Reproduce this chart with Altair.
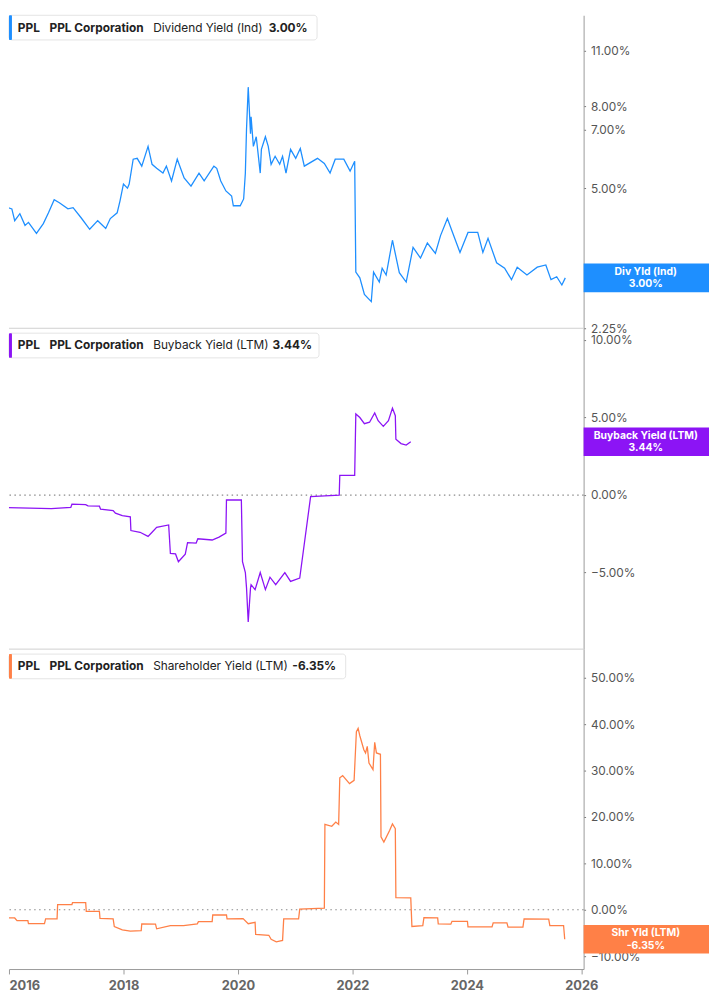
import altair as alt
import pandas as pd

FONT = "Inter"

# ---------------- data ----------------
div_years = [2015.88, 2016.05, 2016.10, 2016.19, 2016.28, 2016.34, 2016.48, 2016.60, 2016.69, 2016.79,
             2016.88, 2017.03, 2017.12, 2017.26, 2017.41, 2017.55, 2017.69, 2017.77, 2017.89, 2017.94,
             2018.00, 2018.07, 2018.10, 2018.17, 2018.24, 2018.32, 2018.43, 2018.50, 2018.58, 2018.69,
             2018.75, 2018.84, 2018.94, 2019.06, 2019.18, 2019.32, 2019.41, 2019.58, 2019.63, 2019.70,
             2019.79, 2019.89, 2019.92, 2020.04, 2020.10, 2020.13, 2020.15, 2020.18, 2020.22, 2020.23,
             2020.27, 2020.32, 2020.39, 2020.41, 2020.48, 2020.53, 2020.58, 2020.65, 2020.73, 2020.78,
             2020.84, 2020.92, 2021.01, 2021.09, 2021.16, 2021.39, 2021.51, 2021.61, 2021.70, 2021.85,
             2021.96, 2022.04, 2022.06, 2022.13, 2022.21, 2022.33, 2022.37, 2022.47, 2022.52, 2022.59,
             2022.70, 2022.82, 2022.94, 2023.06, 2023.19, 2023.31, 2023.45, 2023.54, 2023.66, 2023.75,
             2023.88, 2024.02, 2024.19, 2024.28, 2024.37, 2024.52, 2024.66, 2024.78, 2024.88, 2025.05,
             2025.23, 2025.38, 2025.47, 2025.57, 2025.66, 2025.72]
div_values = [4.53, 4.45, 4.16, 4.33, 4.05, 4.12, 3.87, 4.09, 4.35, 4.69,
              4.61, 4.45, 4.48, 4.23, 3.96, 4.16, 3.98, 4.21, 4.35, 4.66,
              5.13, 5.01, 5.13, 5.91, 5.94, 5.68, 6.36, 5.74, 5.61, 5.46,
              5.68, 5.22, 5.91, 5.31, 5.07, 5.46, 5.22, 5.68, 5.61, 5.22,
              4.93, 4.79, 4.53, 4.53, 4.71, 5.46, 7.00, 8.92, 6.84, 7.53,
              6.36, 6.72, 5.46, 6.25, 6.72, 6.36, 5.74, 6.01, 5.74, 6.01,
              5.46, 6.25, 5.94, 6.28, 5.68, 5.94, 5.77, 5.46, 5.91, 5.91,
              5.52, 5.84, 3.10, 3.00, 2.73, 2.62, 3.10, 2.93, 3.17, 3.05,
              3.72, 3.09, 2.93, 3.57, 3.36, 3.66, 3.45, 3.82, 4.21, 3.89,
              3.47, 3.89, 3.89, 3.47, 3.76, 3.27, 3.17, 2.97, 3.19, 3.05,
              3.19, 3.23, 2.97, 3.02, 2.88, 3.00]

bb_years = [2015.88, 2016.74, 2017.08, 2017.10, 2017.34, 2017.38, 2017.58, 2017.60, 2017.82, 2017.86,
            2017.98, 2018.12, 2018.13, 2018.29, 2018.43, 2018.50, 2018.58, 2018.79, 2018.82, 2018.91,
            2018.96, 2019.08, 2019.12, 2019.27, 2019.30, 2019.55, 2019.67, 2019.79, 2019.80, 2020.06,
            2020.08, 2020.13, 2020.15, 2020.18, 2020.22, 2020.23, 2020.30, 2020.39, 2020.48, 2020.56,
            2020.66, 2020.82, 2020.92, 2021.08, 2021.27, 2021.52, 2021.77, 2021.78, 2022.04, 2022.06,
            2022.13, 2022.21, 2022.30, 2022.39, 2022.45, 2022.54, 2022.63, 2022.70, 2022.75, 2022.76,
            2022.85, 2022.94, 2023.02]
bb_values = [-0.80, -0.87, -0.80, -0.59, -0.62, -0.70, -0.72, -0.91, -1.00, -1.17,
             -1.33, -1.40, -2.29, -2.40, -2.67, -2.40, -2.08, -1.93, -3.77, -3.80,
             -4.30, -3.81, -3.07, -3.10, -2.82, -2.90, -2.71, -2.46, -0.32, -0.32,
             -4.30, -5.00, -5.97, -8.18, -6.00, -5.78, -6.10, -5.00, -6.10, -5.30,
             -5.78, -5.00, -5.57, -5.36, -0.10, -0.06, 0.00, 1.27, 1.27, 5.23,
             5.00, 4.60, 4.70, 5.30, 4.80, 4.43, 4.80, 5.61, 5.12, 3.60,
             3.32, 3.22, 3.44]

sh_years = [2015.88, 2016.10, 2016.14, 2016.33, 2016.34, 2016.62, 2016.64, 2016.84, 2016.85, 2017.10,
            2017.11, 2017.34, 2017.35, 2017.58, 2017.59, 2017.82, 2017.84, 2017.98, 2018.12, 2018.31,
            2018.32, 2018.56, 2018.58, 2018.82, 2019.05, 2019.29, 2019.31, 2019.55, 2019.56, 2019.80,
            2019.81, 2020.09, 2020.18, 2020.30, 2020.31, 2020.54, 2020.58, 2020.67, 2020.78, 2020.80,
            2021.06, 2021.08, 2021.51, 2021.52, 2021.64, 2021.71, 2021.76, 2021.78, 2021.83, 2021.95,
            2022.03, 2022.07, 2022.10, 2022.13, 2022.20, 2022.23, 2022.26, 2022.29, 2022.36, 2022.39,
            2022.42, 2022.49, 2022.50, 2022.55, 2022.65, 2022.70, 2022.75, 2022.76, 2023.02, 2023.04,
            2023.23, 2023.25, 2023.49, 2023.50, 2023.72, 2023.74, 2024.01, 2024.02, 2024.44, 2024.46,
            2024.70, 2024.72, 2024.98, 2025.00, 2025.43, 2025.45, 2025.69, 2025.71]
sh_values = [-1.77, -1.77, -2.34, -2.34, -2.97, -2.97, -1.98, -1.98, 1.13, 1.13,
             1.56, 1.56, -0.35, -0.35, -1.84, -1.98, -3.60, -4.32, -4.60, -4.50,
             -3.04, -3.10, -4.10, -3.40, -3.40, -3.04, -2.55, -2.55, -1.13, -1.13,
             -1.98, -1.90, -3.00, -2.70, -5.30, -5.50, -6.37, -6.90, -6.60, -1.98,
             -1.98, 0.14, 0.35, 18.40, 18.00, 18.90, 18.40, 28.45, 28.90, 27.20,
             27.90, 38.40, 39.10, 37.50, 34.50, 33.80, 35.20, 31.60, 30.20, 36.10,
             33.80, 33.50, 15.70, 14.60, 17.10, 18.50, 17.50, 2.62, 2.55, -3.60,
             -3.40, -1.70, -1.75, -3.04, -3.10, -2.48, -2.48, -3.68, -3.70, -2.83,
             -2.83, -3.75, -3.75, -1.98, -2.00, -3.40, -3.40, -6.35]

year_ticks = [2016, 2018, 2020, 2022, 2024, 2026]
div_ticks = [2.25, 3, 5, 7, 8, 11, 14]
bb_ticks = [-5, 0, 5, 10]
sh_ticks = [-10, 0, 10, 20, 30, 40, 50]

BLUE = "#1E8FFF"
PURPLE = "#8C14F5"
ORANGE = "#FF8047"

W = 582
X_DOMAIN = [2016, 2026.04]
one = alt.Data(values=[{}])


def y_axis(ticks):
    return alt.Axis(orient="right", values=ticks, labelExpr="format(datum.value, '.2f') + '%'",
                    grid=False, domainColor="#9a9a9a", tickColor="#777", tickSize=2,
                    labelColor="#555", labelFontSize=12, labelPadding=5, labelFont=FONT,
                    labelOverlap=False, labelFlush=False)


def panel(years, values, color, height, yscale, ticks, legend_items, legend_w, legend_y,
          tag1, tag2, last_value, x_axis, zero_line, separator):
    df = pd.DataFrame({"year": years, "value": values})
    xenc = alt.X("year:Q", scale=alt.Scale(domain=X_DOMAIN, nice=False, zero=False), axis=x_axis, title=None)
    yenc = alt.Y("value:Q", scale=yscale, axis=y_axis(ticks), title=None)
    layers = []
    if zero_line:
        layers.append(alt.Chart(alt.Data(values=[{"z": 0}])).mark_rule(
            color="#8a8a8a", strokeDash=[1.5, 3.5], strokeWidth=1.2).encode(y=alt.Y("z:Q")))
    layers.append(alt.Chart(df).mark_line(color=color, strokeWidth=1.3, clip=True).encode(x=xenc, y=yenc))
    if separator:
        layers.append(alt.Chart(one).mark_rule(color="#cfcfcf", strokeWidth=1).encode(
            x=alt.value(0), x2=alt.value(W), y=alt.value(height)))
    # legend box
    layers.append(alt.Chart(one).mark_rect(fill="white", stroke="#e4e4e4", cornerRadius=3).encode(
        x=alt.value(0), x2=alt.value(legend_w), y=alt.value(legend_y), y2=alt.value(legend_y + 25)))
    layers.append(alt.Chart(one).mark_rect(fill=color, cornerRadius=1).encode(
        x=alt.value(0), x2=alt.value(3), y=alt.value(legend_y), y2=alt.value(legend_y + 25)))
    for txt, px, bold in legend_items:
        layers.append(alt.Chart(one).mark_text(
            align="left", baseline="middle", font=FONT, fontSize=12,
            fontWeight="bold" if bold else "normal", color="#222").encode(
            x=alt.value(px), y=alt.value(legend_y + 12.5), text=alt.value(txt)))
    # right value box
    lab = alt.Data(values=[{"value": last_value, "l1": tag1, "l2": tag2}])
    layers.append(alt.Chart(lab).mark_rect(color=color, yOffset=-14.5, y2Offset=14.5).encode(
        x=alt.value(W), x2=alt.value(W + 127), y=alt.Y("value:Q"), y2=alt.Y2("value")))
    layers.append(alt.Chart(lab).mark_text(color="white", font=FONT, fontSize=10.5, fontWeight="bold",
                                           dy=-6, align="center", baseline="middle").encode(
        x=alt.value(W + 63), y=alt.Y("value:Q"), text="l1:N"))
    layers.append(alt.Chart(lab).mark_text(color="white", font=FONT, fontSize=10.5, fontWeight="bold",
                                           dy=6.5, align="center", baseline="middle").encode(
        x=alt.value(W + 63), y=alt.Y("value:Q"), text="l2:N"))
    return alt.layer(*layers).properties(width=W, height=height)


common = [("PPL", 9, True), ("PPL Corporation", 41, True)]

p1 = panel(div_years, div_values, BLUE, 317,
           alt.Scale(type="log", domain=[2.25, 13.45], nice=False), div_ticks,
           common + [("Dividend Yield (Ind)", 146, False), ("3.00%", 263, True)], 312, 0,
           "Div Yld (Ind)", "3.00%", 3.00, None, False, True)

p2 = panel(bb_years, bb_values, PURPLE, 325,
           alt.Scale(domain=[-9.94, 10.76], nice=False, zero=False), bb_ticks,
           common + [("Buyback Yield (LTM)", 146, False), ("3.44%", 267, True)], 314, 5,
           "Buyback Yield (LTM)", "3.44%", 3.44, None, True, True)

x_axis = alt.Axis(values=year_ticks, format="d", labelFontWeight="bold", labelFontSize=13,
                  labelColor="#666", labelFont=FONT, tickSize=5, tickColor="#999",
                  domainColor="#9a9a9a", labelPadding=6, grid=False, labelFlush=1)

p3 = panel(sh_years, sh_values, ORANGE, 324,
           alt.Scale(domain=[-12.77, 56.17], nice=False, zero=False), sh_ticks,
           common + [("Shareholder Yield (LTM)", 146, False), ("-6.35%", 287, True)], 341, 5,
           "Shr Yld (LTM)", "-6.35%", -6.35, x_axis, True, False)

chart = alt.vconcat(p1, p2, p3, spacing=0, bounds="flush").configure(
    font=FONT, padding=0).configure_view(stroke=None)

chart.save("out.html", embed_options={"renderer": "svg", "actions": False})
